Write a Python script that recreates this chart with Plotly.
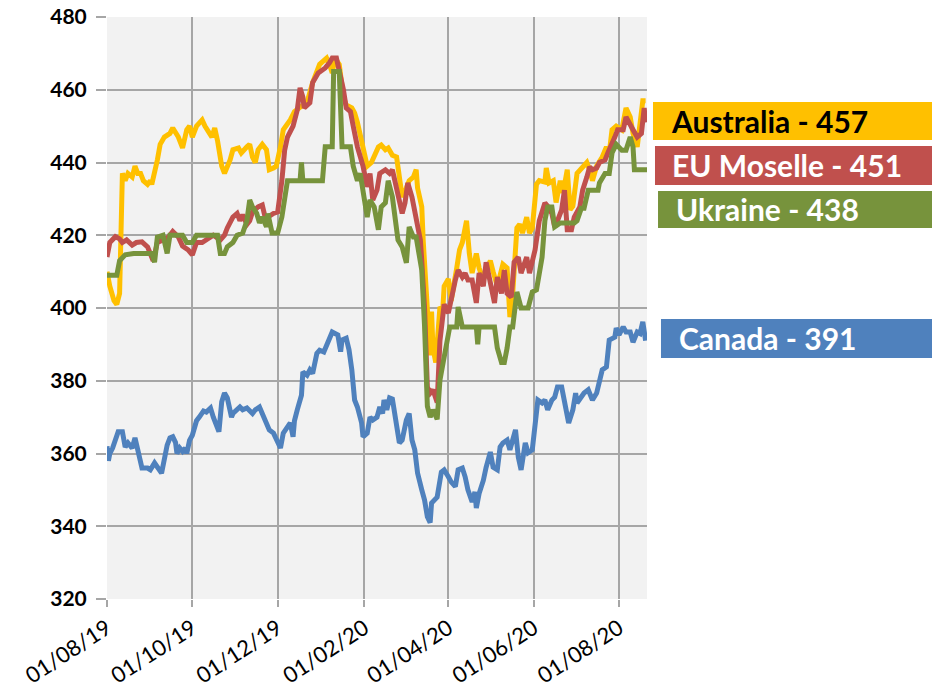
import pandas as pd
import plotly.graph_objects as go

START = "2019-08-01"

# ---- data: days since 01/08/2019 and price values ----
aus_days = [0, 2, 5, 7, 9, 11, 13, 15, 18, 20, 22, 24, 26, 29, 31, 32, 36, 38, 41, 45, 47, 51, 54, 57, 59, 61,
            64, 68, 70, 72, 75, 77, 79, 82, 84, 88, 90, 94, 96, 100, 102, 104, 106, 108, 111, 114, 116, 119,
            121, 124, 126, 131, 134, 143, 147, 152, 157, 159, 161, 163, 166, 169, 171, 175, 177, 179, 182,
            184, 186, 189, 191, 194, 196, 199, 201, 204, 207, 209, 211, 214, 216, 219, 221, 222, 225, 226,
            227, 229, 230, 231, 232, 233, 235, 236, 238, 240, 241, 244, 246, 250, 252, 254, 257, 259, 261,
            264, 266, 269, 274, 276, 279, 283, 286, 288, 290, 293, 295, 297, 300, 302, 304, 307, 309, 313,
            314, 316, 319, 321, 324, 326, 329, 331, 333, 336, 338, 340, 343, 345, 347, 350, 352, 354, 357,
            359, 361, 364, 368, 371, 374, 376, 379, 381, 383, 385]
aus_vals = [410, 406, 402, 401, 404, 437, 435, 437, 436, 439, 437, 437, 435, 434, 435, 434, 440.7, 445, 447,
            448, 449.5, 447, 444, 449, 450, 447, 450, 451.7, 450, 449, 447, 449.5, 446, 439, 437, 440.7,
            443.5, 444, 442.6, 444.3, 445, 441.5, 440, 443.5, 445, 443.5, 438, 438.5, 439, 444.3, 449,
            451.7, 454, 456.6, 462, 467, 468.7, 467, 464.6, 468.7, 467, 458, 455.8, 455, 453.6, 451, 446,
            442.6, 439, 440, 441.5, 444.3, 444.8, 443.5, 444, 442, 441.5, 435, 430.5, 433, 435, 436, 438,
            433, 427.8, 418.7, 412, 397, 390, 387, 399, 389, 385, 390, 400.3, 399.4, 406, 408, 402, 411,
            416, 418, 424, 415, 409.6, 415, 411, 407.7, 413, 410, 406, 412, 411, 397.5, 404, 422, 423,
            420.6, 425, 420.6, 422, 434, 435, 434.6, 438.5, 434.4, 435, 429, 435, 431.6, 438, 427, 428,
            437, 438, 439, 440, 438, 435, 439, 440, 441.5, 444.3, 442.6, 449, 450, 449, 455, 452.5, 448,
            444.3, 450, 457, 457]

eu_days = [0, 2, 6, 9, 11, 14, 18, 21, 25, 29, 33, 36, 40, 44, 47, 51, 54, 58, 61, 64, 68, 71, 76, 81, 84,
           86, 90, 93, 95, 97, 100, 102, 104, 108, 111, 113, 115, 119, 122, 125, 127, 129, 133, 136, 138,
           140, 141, 145, 147, 151, 156, 159, 161, 164, 166, 169, 171, 174, 176, 179, 183, 186, 188, 190,
           193, 195, 199, 202, 204, 207, 211, 213, 215, 218, 221, 224, 225, 227, 229, 231, 233, 236, 238,
           241, 244, 246, 249, 251, 254, 256, 258, 261, 264, 266, 269, 271, 274, 277, 279, 282, 284, 286,
           289, 291, 294, 296, 300, 302, 306, 309, 313, 315, 318, 320, 322, 325, 327, 329, 332, 334, 338,
           340, 343, 345, 347, 350, 352, 356, 358, 361, 363, 365, 369, 371, 374, 376, 379, 382, 384, 385]
eu_vals = [414, 418, 419.6, 419, 418, 418.7, 417.3, 418, 418.2, 416.8, 413, 418, 418.7, 419.5, 421, 419.5,
           417, 416, 414.6, 418, 418, 418.7, 420, 418.7, 420, 422, 425, 426, 424, 425.6, 423, 424, 426.4,
           427.8, 428.3, 425, 425, 426, 426.4, 435, 443.4, 447, 450, 454.4, 460.5, 458, 455, 456.4, 462,
           464.6, 466, 467.4, 468.7, 468.7, 465.4, 460, 455, 454, 450, 444.3, 439, 433.3, 437, 429.7,
           432.4, 437, 438, 437, 438, 433.3, 426, 428.9, 434.4, 430.5, 424, 418.7, 413, 400, 378.3,
           376.6, 377.5, 374, 391, 401, 398.6, 403, 407.7, 410.4, 408.5, 409.6, 407.7, 407.7, 401.4,
           409.6, 406, 412.6, 407.7, 401.4, 408.5, 404, 410.4, 404, 403, 412.6, 414, 409.6, 414, 409.6,
           416, 424, 428.9, 428, 426, 422.3, 424, 427, 432.4, 421.5, 421.5, 425, 427.8, 432.4, 436,
           438.8, 438, 438.5, 440, 440.7, 442.6, 445, 447, 449, 449, 452.5, 450, 449, 447, 448, 455, 451]

ukr_days = [0, 7, 9, 13, 19, 32, 34, 36, 40, 43, 45, 54, 57, 61, 64, 79, 81, 84, 86, 90, 93, 97, 100, 102,
            104, 107, 109, 111, 114, 115, 118, 122, 125, 129, 138, 139, 140, 154, 156, 161, 162, 166, 168,
            174, 176, 179, 181, 183, 186, 188, 191, 194, 196, 199, 201, 204, 206, 208, 211, 214, 216, 219,
            221, 222, 225, 227, 229, 231, 233, 236, 238, 241, 245, 250, 251, 254, 264, 265, 266, 277, 279,
            282, 284, 286, 288, 290, 293, 296, 301, 304, 307, 311, 313, 315, 318, 320, 324, 334, 336, 339,
            341, 344, 351, 352, 356, 359, 361, 364, 368, 371, 374, 376, 377, 386]
ukr_vals = [409, 409, 413, 414.6, 415, 415, 412.6, 419.5, 420, 415, 420, 420, 418, 418, 420, 420, 415, 415,
            416.8, 418, 420, 420.6, 424, 429.7, 427.8, 426, 423.4, 425, 422.3, 426, 420.6, 420.6, 425, 435,
            435, 440, 435, 435, 444.3, 444.3, 465, 465, 444.3, 444.3, 439, 435, 437, 431.6, 425, 429.7,
            427.8, 421.5, 427.8, 428.9, 435, 430.5, 425, 418.7, 416.8, 412.4, 422.3, 419.5, 419.5, 416.8,
            410.4, 395, 373, 370, 372, 369.4, 380.2, 386.5, 394.8, 394.8, 400.3, 394.8, 394.8, 390, 394.8,
            394.8, 389, 385, 385, 389, 394.8, 394.8, 404.4, 400, 400, 404.4, 405, 414, 424, 427.8, 427.8,
            422.3, 423.4, 423.4, 424, 427.4, 427.4, 432.4, 432.4, 434.4, 437, 437, 442.6, 445, 443.4, 443.4,
            447, 444.3, 438, 438]

can_days = [0, 1, 2, 4, 8, 11, 13, 15, 18, 20, 22, 25, 29, 31, 34, 36, 39, 43, 45, 47, 49, 50, 52, 54, 56,
            57, 59, 61, 64, 66, 69, 71, 74, 76, 79, 80, 82, 84, 86, 89, 90, 93, 95, 97, 100, 104, 106, 109,
            111, 114, 116, 119, 121, 124, 126, 129, 131, 133, 134, 136, 139, 140, 143, 145, 147, 150, 152,
            155, 158, 161, 163, 165, 167, 168, 171, 173, 175, 177, 179, 182, 183, 186, 188, 190, 193, 195,
            197, 198, 200, 202, 204, 207, 209, 211, 214, 216, 218, 220, 222, 225, 227, 229, 231, 232, 234,
            236, 239, 241, 244, 246, 249, 251, 254, 256, 258, 261, 263, 264, 266, 269, 271, 274, 276, 279,
            281, 283, 286, 288, 290, 292, 294, 296, 299, 301, 304, 306, 308, 311, 313, 315, 318, 320, 322,
            325, 327, 330, 333, 335, 336, 339, 341, 344, 347, 350, 352, 354, 357, 358, 359, 363, 364, 366,
            369, 371, 374, 376, 379, 381, 383, 385]
can_vals = [362, 358, 360, 361.5, 366, 366, 361.8, 362.9, 361.5, 364.3, 361, 356, 356, 355.5, 357.4, 356,
            354.6, 362.3, 364.3, 364.6, 363, 360, 361.5, 360.6, 361.5, 360, 363.6, 365, 369, 370, 371.7,
            371.4, 372.5, 370, 367.3, 366, 374.2, 376.6, 375.3, 370, 371, 372, 372.8, 372, 372.5, 371,
            372, 372.8, 371, 368.4, 366.5, 365.6, 363.7, 361.5, 365.6, 367.3, 368.4, 364.6, 369, 372, 376,
            382.4, 381.5, 383, 382, 387.5, 388.4, 387.9, 390.4, 393.4, 393, 392.6, 388, 391.2, 391.7,
            388.5, 383, 374.7, 372.8, 368.4, 364.6, 365.6, 370, 369.2, 370, 372.8, 371, 374.7, 372,
            375.3, 375, 367.3, 362.9, 363.7, 369.2, 371, 363.7, 361, 354.6, 350, 347.2, 342.6, 341,
            346.4, 347.2, 348, 354.9, 355.5, 353.6, 352.2, 350.9, 355.5, 356, 353.6, 350, 346.7, 349.4,
            345, 349, 352.6, 356.2, 360.4, 356.2, 355.5, 361.8, 362.9, 363.7, 361, 363.7, 366.5, 359,
            355.5, 362.9, 360.2, 361, 367.3, 374.7, 373.9, 374.7, 372, 374.7, 375.5, 378.3, 378.3, 373.9,
            368.4, 372, 376.6, 373.9, 375.5, 376.6, 377.5, 374.7, 376.6, 379.3, 383, 383.8, 390.4, 391.2,
            392, 394.5, 392.6, 394.8, 393.4, 393.4, 390.6, 393.4, 393, 396.2, 391]

series_names = ["Canada", "Australia", "EU Moselle", "Ukraine"]
series_colors = ["#4F81BD", "#FFC000", "#C0504D", "#77933C"]
series_days = [can_days, aus_days, eu_days, ukr_days]
series_vals = [can_vals, aus_vals, eu_vals, ukr_vals]

tick_dates = ["2019-08-01", "2019-10-01", "2019-12-01", "2020-02-01", "2020-04-01", "2020-06-01", "2020-08-01"]
tick_labels = ["01/08/19", "01/10/19", "01/12/19", "01/02/20", "01/04/20", "01/06/20", "01/08/20"]
y_ticks = [320, 340, 360, 380, 400, 420, 440, 460, 480]

label_names = ["Australia", "EU Moselle", "Ukraine", "Canada"]
label_values = [457, 451, 438, 391]
label_colors = ["#FFC000", "#C0504D", "#77933C", "#4F81BD"]
label_text_colors = ["#000000", "#FFFFFF", "#FFFFFF", "#FFFFFF"]

# ---- figure ----
start = pd.Timestamp(START)
fig = go.Figure()
for name, color, d, v in zip(series_names, series_colors, series_days, series_vals):
    x = start + pd.to_timedelta(d, unit="D")
    fig.add_trace(go.Scatter(x=x, y=v, mode="lines", name=name,
                             line=dict(color=color, width=5)))

# label boxes (pixel geometry converted to paper coords)
box_x0 = [1.0111, 1.0148, 1.0204, 1.0259]
box_y0 = [0.7887, 0.7113, 0.6375, 0.4141]
box_y1 = [0.8540, 0.7784, 0.7010, 0.4811]
text_x = [1.0407, 1.0426, 1.0500, 1.0556]
for i, (n, val) in enumerate(zip(label_names, label_values)):
    fig.add_shape(type="rect", xref="paper", yref="paper",
                  x0=box_x0[i], x1=1.53, y0=box_y0[i], y1=box_y1[i],
                  fillcolor=label_colors[i], line=dict(width=0), layer="above")
    fig.add_annotation(xref="paper", yref="paper", x=text_x[i],
                       y=(box_y0[i] + box_y1[i]) / 2, xanchor="left", yanchor="middle",
                       text=f"{n} - {val}", showarrow=False,
                       font=dict(family="Lato", size=30, color=label_text_colors[i], weight="bold"))

grid = "#A6A6A6"
fig.update_layout(
    width=932, height=688,
    margin=dict(l=107, r=285, t=17, b=89),
    paper_bgcolor="white", plot_bgcolor="#F2F2F2",
    showlegend=False,
    xaxis=dict(type="date", range=["2019-08-01", "2020-08-21"], automargin=False,
               tickvals=tick_dates, ticktext=tick_labels, tickangle=-33,
               showgrid=True, gridcolor=grid, gridwidth=1.5,
               ticks="outside", ticklen=7, tickcolor=grid, tickwidth=1.5,
               showline=False, zeroline=False, ticklabeloverflow="allow",
               tickfont=dict(family="Lato", size=22, color="#000000")),
    yaxis=dict(range=[320, 480], tickvals=y_ticks, automargin=False,
               showgrid=True, gridcolor=grid, gridwidth=1.5,
               ticks="outside", ticklen=10, tickcolor=grid, tickwidth=1.5,
               showline=False, zeroline=False, ticklabelstandoff=5,
               ticklabeloverflow="allow",
               tickfont=dict(family="Lato", size=21, color="#000000", weight="bold")),
)

# remove the page's default body margin so the figure fills the window exactly
fig.write_html("out.html", config={"displayModeBar": False},
               post_script="document.body.style.margin='0px';")
